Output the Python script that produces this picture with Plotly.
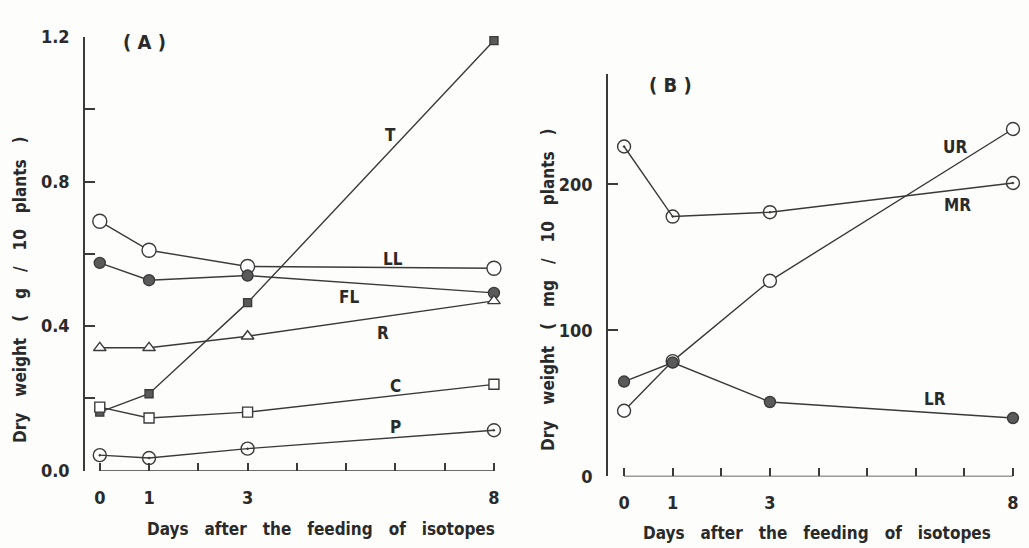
import plotly.graph_objects as go

# Days after feeding
days = [0, 1, 3, 8]

# Panel A: dry weight (g / 10 plants)
a_LL = [0.69, 0.61, 0.565, 0.56]
a_FL = [0.575, 0.527, 0.54, 0.492]
a_T = [0.162, 0.213, 0.465, 1.19]
a_R = [0.34, 0.34, 0.372, 0.47]
a_C = [0.176, 0.146, 0.162, 0.239]
a_P = [0.043, 0.035, 0.061, 0.112]

# Panel B: dry weight (mg / 10 plants)
b_MR = [226, 178, 181, 201]
b_UR = [45, 79, 134, 238]
b_LR = [65, 78, 51, 40]

x_ticks = [0, 1, 2, 3, 4, 5, 6, 7, 8]
x_ticktext = ["0", "1", "", "3", "", "", "", "", "8"]
a_yticks = [0, 0.2, 0.4, 0.6, 0.8, 1.0, 1.2]
a_yticktext = ["0.0", "", "0.4", "", "0.8", "", "1.2"]
b_yticks = [0, 100, 200, 276]
b_yticktext = ["0", "100", "200", ""]

INK = "#3a3a3a"
FILL = "#5a5a5a"
BG = "#fdfdfc"
FONT = "DejaVu Sans Condensed, Liberation Sans Narrow, sans-serif"

fig = go.Figure()


def add_series(x, y, xa, ya, symbol, size, fill, lw=1.4):
    fig.add_trace(go.Scatter(
        x=x, y=y, xaxis=xa, yaxis=ya, mode="lines+markers",
        line=dict(color=INK, width=lw),
        marker=dict(symbol=symbol, size=size, color=fill,
                    line=dict(color=INK, width=1.4)),
        cliponaxis=False, showlegend=False, hoverinfo="skip",
    ))


# Panel A
add_series(days, a_LL, "x", "y", "circle", 14, "white")
add_series(days, a_FL, "x", "y", "circle", 11, FILL)
add_series(days, a_T, "x", "y", "square", 8, FILL)
add_series(days, a_R, "x", "y", "triangle-up", 11, "white")
add_series(days, a_C, "x", "y", "square", 10, "white")
add_series(days, a_P, "x", "y", "circle-open-dot", 13, INK)

# Panel B
add_series(days, b_MR, "x2", "y2", "circle-open-dot", 13, INK)
add_series(days, b_UR, "x2", "y2", "circle", 13, "white")
add_series(days, b_LR, "x2", "y2", "circle", 11, FILL)

tick_font = dict(family=FONT, size=18, color="#2a2a2a", weight="bold")

xaxis_common = dict(
    tickmode="array", tickvals=x_ticks, ticktext=x_ticktext,
    ticks="inside", ticklen=8, tickwidth=1.5, tickcolor=INK,
    showline=False, showgrid=False, zeroline=False,
    tickfont=tick_font, ticklabelstandoff=14, fixedrange=True,
)
yaxis_common = dict(
    tickmode="array", ticks="inside", ticklen=10, tickwidth=1.5,
    tickcolor=INK, showline=True, linecolor=INK, linewidth=1.6,
    showgrid=False, zeroline=False, tickfont=tick_font,
    ticklabelstandoff=10, fixedrange=True,
)

fig.update_layout(
    width=1029, height=548,
    margin=dict(l=0, r=0, t=0, b=0),
    paper_bgcolor=BG, plot_bgcolor=BG,
    xaxis=dict(domain=[0.0826, 0.4944], range=[-0.3, 8.3], anchor="y", **xaxis_common),
    yaxis=dict(domain=[0.1277, 0.9507], range=[0, 1.2], anchor="x",
               tickvals=a_yticks, ticktext=a_yticktext, **yaxis_common),
    xaxis2=dict(domain=[0.5909, 0.9986], range=[-0.33, 8.3], anchor="y2", **xaxis_common),
    yaxis2=dict(domain=[0.1168, 0.8814], range=[0, 276], anchor="x2",
                tickvals=b_yticks, ticktext=b_yticktext, **yaxis_common),
)

# Baselines from day 0 to day 8
fig.add_shape(type="line", xref="x", yref="y", x0=0, x1=8, y0=0, y1=0,
              line=dict(color=INK, width=1.6))
fig.add_shape(type="line", xref="x2", yref="y2", x0=0, x1=8, y0=0, y1=0,
              line=dict(color=INK, width=1.6))

lab_font = dict(family=FONT, size=17, color="#2a2a2a", weight="bold")


def label(text, x, y, xref, yref, size=17):
    f = dict(lab_font)
    f["size"] = size
    fig.add_annotation(text=text, x=x, y=y, xref=xref, yref=yref,
                       xanchor="center", yanchor="middle",
                       showarrow=False, font=f)


# Series labels, panel A
label("T", 5.9, 0.93, "x", "y")
label("LL", 5.95, 0.585, "x", "y")
label("FL", 5.05, 0.48, "x", "y")
label("R", 5.75, 0.38, "x", "y")
label("C", 6.0, 0.235, "x", "y")
label("P", 6.0, 0.12, "x", "y")
label("( A )", 0.9, 1.185, "x", "y", 20)

# Series labels, panel B
label("UR", 6.8, 226, "x2", "y2")
label("MR", 6.85, 186, "x2", "y2")
label("LR", 6.4, 53, "x2", "y2")
label("( B )", 0.95, 268, "x2", "y2", 20)

title_font = dict(family=FONT, size=17, color="#2a2a2a", weight="bold")
sp = "\u00a0\u00a0\u00a0"
xtitle = sp.join(["Days", "after", "the", "feeding", "of", "isotopes"])
ytitle_a = sp.join(["Dry", "weight", "(", "g", "/", "10", "plants", ")"])
ytitle_b = sp.join(["Dry", "weight", "(", "mg", "/", "10", "plants", ")"])


def title(text, px, py, angle=0):
    fig.add_annotation(text=text, x=px / 1029, y=(548 - py) / 548,
                       xref="paper", yref="paper", xanchor="center",
                       yanchor="middle", textangle=angle,
                       showarrow=False, font=title_font)


title(xtitle, 321, 539)
title(xtitle, 817, 543)
title(ytitle_a, 20, 290, -90)
title(ytitle_b, 548, 290, -90)

fig.write_html("out.html")
